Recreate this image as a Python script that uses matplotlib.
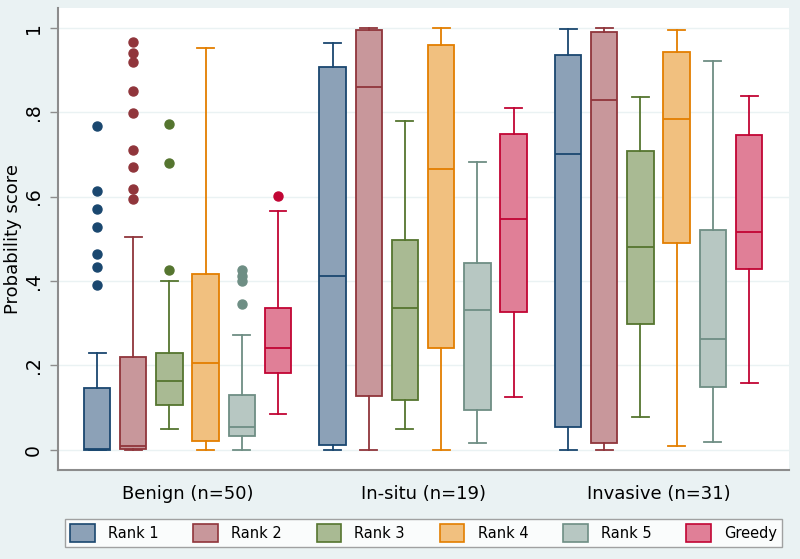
import matplotlib
matplotlib.use("Agg")
import matplotlib.pyplot as plt
from matplotlib.patches import Patch

# categories and series
groups = ["Benign (n=50)", "In-situ (n=19)", "Invasive (n=31)"]
series = ["Rank 1", "Rank 2", "Rank 3", "Rank 4", "Rank 5", "Greedy"]

# box statistics, one row per group, one value per series
q1 = [
    [0.000, 0.002, 0.105, 0.020, 0.032, 0.181],
    [0.012, 0.127, 0.119, 0.240, 0.094, 0.327],
    [0.054, 0.017, 0.299, 0.491, 0.149, 0.428],
]
med = [
    [0.002, 0.009, 0.163, 0.206, 0.054, 0.240],
    [0.412, 0.860, 0.335, 0.666, 0.331, 0.546],
    [0.702, 0.829, 0.481, 0.784, 0.263, 0.517],
]
q3 = [
    [0.147, 0.221, 0.229, 0.417, 0.130, 0.335],
    [0.906, 0.994, 0.497, 0.959, 0.442, 0.748],
    [0.936, 0.990, 0.708, 0.942, 0.520, 0.746],
]
whislo = [
    [0.000, 0.000, 0.048, 0.000, 0.000, 0.084],
    [0.000, 0.000, 0.050, 0.000, 0.016, 0.124],
    [0.000, 0.000, 0.078, 0.010, 0.019, 0.158],
]
whishi = [
    [0.230, 0.504, 0.400, 0.952, 0.273, 0.565],
    [0.963, 1.000, 0.780, 1.000, 0.683, 0.809],
    [0.997, 1.000, 0.835, 0.994, 0.922, 0.839],
]
# outliers (only the benign group has any)
fliers = [
    [
        [0.767, 0.613, 0.570, 0.527, 0.464, 0.434, 0.391],
        [0.967, 0.940, 0.919, 0.851, 0.799, 0.710, 0.670, 0.618, 0.595],
        [0.772, 0.680, 0.427],
        [],
        [0.425, 0.412, 0.400, 0.345],
        [0.602],
    ],
    [[], [], [], [], [], []],
    [[], [], [], [], [], []],
]

edge_colors = ["#1a476f", "#90353b", "#55752f", "#e37e00", "#6e8e84", "#c10534"]
fill_colors = ["#8ca1b7", "#c8979b", "#a9ba93", "#f1c07f", "#b7c7c2", "#e07f97"]
bg = "#eaf2f3"

plt.rcParams["font.family"] = ["DejaVu Sans"]

fig = plt.figure(figsize=(8, 5.59), dpi=100, facecolor=bg)
ax = fig.add_axes([58 / 800, 89 / 559, 731 / 800, 462 / 559])
ax.set_facecolor("white")

step = 0.1537
width = 0.112

for s, name in enumerate(series):
    stats = []
    for g in range(len(groups)):
        stats.append({
            "med": med[g][s], "q1": q1[g][s], "q3": q3[g][s],
            "whislo": whislo[g][s], "whishi": whishi[g][s],
            "fliers": fliers[g][s], "label": name,
        })
    pos = [g + (s - 2.5) * step for g in range(len(groups))]
    ec = edge_colors[s]
    ax.bxp(stats, positions=pos, widths=width, capwidths=0.072,
           patch_artist=True, manage_ticks=False,
           boxprops=dict(facecolor=fill_colors[s], edgecolor=ec, linewidth=1.3),
           medianprops=dict(color=ec, linewidth=1.3),
           whiskerprops=dict(color=ec, linewidth=1.3),
           capprops=dict(color=ec, linewidth=1.3),
           flierprops=dict(marker="o", markerfacecolor=ec, markeredgecolor=ec,
                           markersize=6.5, linestyle="none"))

ax.set_xlim(-0.55, 2.554)
ax.set_ylim(-0.048, 1.047)

ax.set_yticks([0, 0.2, 0.4, 0.6, 0.8, 1.0])
ax.set_yticklabels(["0", ".2", ".4", ".6", ".8", "1"], rotation=90, va="center")
ax.yaxis.grid(True, color=bg, linewidth=1)
ax.set_axisbelow(True)
ax.tick_params(axis="y", direction="out", length=6, width=1, color="#8c8c8c",
               labelsize=13.5, pad=5)
ax.set_ylabel("Probability score", fontsize=13, labelpad=1)

ax.set_xticks(range(len(groups)))
ax.set_xticklabels(groups)
ax.tick_params(axis="x", length=0, labelsize=13, pad=11)

for side in ["top", "right"]:
    ax.spines[side].set_visible(False)
for side in ["left", "bottom"]:
    ax.spines[side].set_color("#8c8c8c")
    ax.spines[side].set_linewidth(1.5)

handles = [Patch(facecolor=f, edgecolor=e, linewidth=1.2, label=n)
           for f, e, n in zip(fill_colors, edge_colors, series)]
leg = fig.legend(handles=handles, ncol=6, mode="expand", loc="lower left",
                 bbox_to_anchor=(65 / 800, 12 / 559, 717 / 800, 36 / 559),
                 fontsize=10.5, frameon=True, fancybox=False,
                 handlelength=1.7, handleheight=1.5, handletextpad=0.9,
                 borderaxespad=0, borderpad=0.35)
leg.get_frame().set_edgecolor("#8c8c8c")
leg.get_frame().set_linewidth(1)

fig.savefig("out.png", dpi=100, facecolor=bg)
